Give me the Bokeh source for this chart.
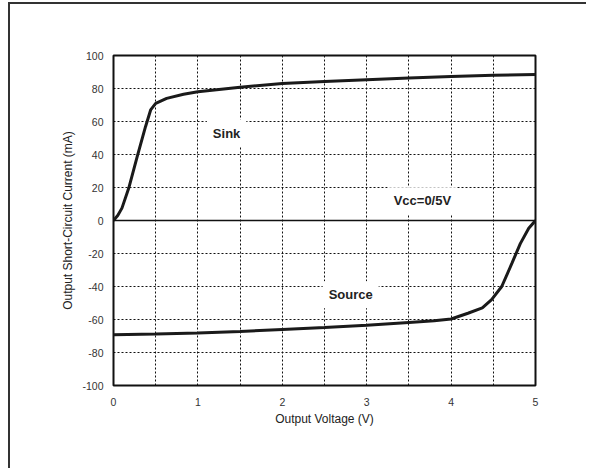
from bokeh.plotting import figure
from bokeh.models import FixedTicker, Span, Label, Range1d
from bokeh.embed import file_html
from bokeh.resources import INLINE

# ---- data ----
sink_v = [0, 0.05, 0.1, 0.18, 0.28, 0.38, 0.44, 0.5, 0.63, 0.83, 1.0, 1.5, 2.0, 2.5, 3.0, 3.5, 4.0, 4.5, 5.0]
sink_i = [0, 3, 7.5, 19.5, 38.5, 57, 67, 71, 74, 76.5, 78, 80.8, 83, 84.3, 85.3, 86.3, 87.2, 88, 88.5]

source_v = [0, 0.5, 1.0, 1.5, 2.0, 2.5, 3.0, 3.5, 3.8, 4.0, 4.2, 4.37, 4.48, 4.6, 4.72, 4.82, 4.92, 5.0]
source_i = [-69.3, -68.8, -68.2, -67.2, -66, -64.8, -63.5, -61.8, -60.8, -59.7, -56.2, -53, -48, -40, -26, -14, -4.7, 0]

x_ticks = [0, 1, 2, 3, 4, 5]
y_ticks = [-100, -80, -60, -40, -20, 0, 20, 40, 60, 80, 100]
x_grid = [0.5, 1, 1.5, 2, 2.5, 3, 3.5, 4, 4.5]
y_grid = [-80, -60, -40, -20, 20, 40, 60, 80]

FONT = "Liberation Sans"

p = figure(width=578, height=466, output_backend="svg", toolbar_location=None,
           x_range=Range1d(0, 5), y_range=Range1d(-100, 100),
           min_border_left=103, min_border_right=53, min_border_top=51, min_border_bottom=85)
p.styles = {"margin-left": "8px", "margin-top": "2px",
            "border-left": "2px solid #333", "border-top": "2px solid #333"}

p.background_fill_color = "white"
p.border_fill_color = "white"
p.outline_line_color = "#111111"
p.outline_line_width = 2

p.xaxis.ticker = FixedTicker(ticks=x_ticks)
p.yaxis.ticker = FixedTicker(ticks=y_ticks)
p.yaxis.major_label_overrides = {t: str(t) for t in y_ticks}
p.xgrid.ticker = FixedTicker(ticks=x_grid)
p.ygrid.ticker = FixedTicker(ticks=y_grid)
for g in (p.xgrid, p.ygrid):
    g.grid_line_color = "#111111"
    g.grid_line_dash = "2 2"
    g.grid_line_width = 1

for ax in (p.xaxis, p.yaxis):
    ax.axis_line_color = None
    ax.major_tick_line_color = None
    ax.minor_tick_line_color = None
    ax.major_label_text_font = FONT
    ax.major_label_text_font_size = "10.5px"
    ax.major_label_text_color = "#333333"
    ax.axis_label_text_font = FONT
    ax.axis_label_text_font_size = "12px"
    ax.axis_label_text_font_style = "normal"
    ax.axis_label_text_color = "#222222"

p.xaxis.axis_label = "Output Voltage (V)"
p.yaxis.axis_label = "Output Short-Circuit Current (mA)"
p.xaxis.major_label_standoff = 6
p.xaxis.axis_label_standoff = 3
p.yaxis.major_label_standoff = 4
p.yaxis.axis_label_standoff = 4

p.add_layout(Span(location=0, dimension="width", line_color="#111111", line_width=1.5))

p.line(sink_v, sink_i, line_color="#1a1a1a", line_width=3)
p.line(source_v, source_i, line_color="#1a1a1a", line_width=3)

for txt, x, y in [("Sink", 1.34, 53), ("Vcc=0/5V", 3.66, 12), ("Source", 2.81, -45)]:
    p.add_layout(Label(x=x, y=y, text=txt, text_align="center", text_baseline="middle",
                       text_font=FONT, text_font_size="13px", text_font_style="bold",
                       text_color="#222222", background_fill_color="white", padding=6))

open("out.html", "w").write(file_html(p, INLINE))
